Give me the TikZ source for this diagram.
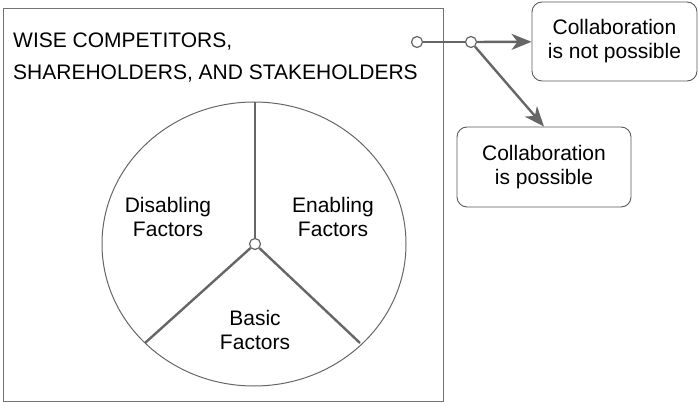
\documentclass[tikz,border=0pt]{standalone}
\usepackage{fontspec}
\setmainfont{Liberation Sans}
\usepackage{tikz}
\usetikzlibrary{arrows.meta}

\begin{document}
\begin{tikzpicture}[x=1pt,y=-1pt,
	font=\fontsize{21}{24}\selectfont,
	spoke/.style={line width=2.4pt,draw=black!60},
	joint/.style={circle,draw=black!60,line width=1.2pt,fill=white,inner sep=0pt,minimum size=11pt},
	outcome/.style={draw=black!65,line width=0.9pt,rounded corners=10pt,align=center,inner sep=0pt},
	factor/.style={align=center,inner sep=0pt}]
	\useasboundingbox (0,0) rectangle (698,403);
	\draw[black!55,line width=1pt] (3,9) rectangle (443,401);
	\node[anchor=west,align=left,inner sep=0pt,font=\fontsize{21}{32}\selectfont] (title) at (13,58) {WISE COMPETITORS,\\SHAREHOLDERS, AND STAKEHOLDERS};
	\draw[black!60,line width=1pt] (254,244) ellipse (152 and 142);
	\coordinate (top) at (255,102);
	\coordinate (left) at (145,343);
	\coordinate (right) at (360,343);
	\node[joint] (hub) at (255,244) {};
	\draw[spoke] (hub) -- (top);
	\draw[spoke] (hub) -- (left);
	\draw[spoke] (hub) -- (right);
	\node[factor] (disabling) at (168,217) {Disabling\\Factors};
	\node[factor] (enabling) at (333,217) {Enabling\\Factors};
	\node[factor] (basic) at (255,330) {Basic\\Factors};
	\node[outcome,minimum width=165pt,minimum height=79pt] (notpossible) at (614.5,41.5) {Collaboration\\is not possible};
	\node[outcome,minimum width=174pt,minimum height=80pt] (possible) at (544,167) {Collaboration\\is possible};
	\node[joint] (start) at (417,42) {};
	\node[joint] (split) at (471,42) {};
	\draw[spoke] (start) -- (split);
	\draw[spoke,-{Stealth[length=20pt,width=16pt,inset=6pt]}] (split) -- (notpossible);
	\draw[spoke,-{Stealth[length=20pt,width=16pt,inset=6pt]}] (split) -- (possible.north);
\end{tikzpicture}
\end{document}
